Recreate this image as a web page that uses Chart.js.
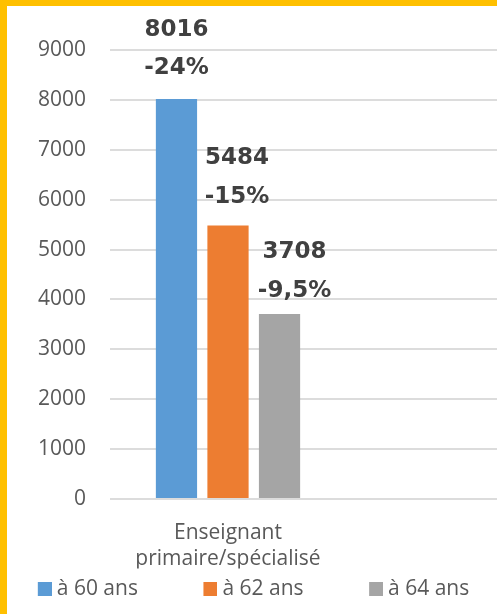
<!DOCTYPE html>
<html>
<head>
<meta charset="utf-8">
<script src="https://cdn.jsdelivr.net/npm/chart.js@4"></script>
<style>
    html, body { margin: 0; padding: 0; background: #ffffff; overflow: hidden; }
    #frame {
        position: absolute; left: 0; top: 0;
        width: 490px; height: 608px;
        border-top: 6px solid #FFC000;
        border-left: 7px solid #FFC000;
        overflow: hidden; background: #ffffff;
    }
    #holder { position: absolute; left: -138px; top: 0; width: 713px; height: 608px; }
</style>
</head>
<body>
<div id="frame"><div id="holder"><canvas id="retraiteChart"></canvas></div></div>
<script>
const categories = [['Enseignant', 'primaire/spécialisé'], ''];
const seriesNames = ['à 60 ans', 'à 62 ans', 'à 64 ans'];
const values60 = [8016, null];
const values62 = [5484, null];
const values64 = [3708, null];
const changes = ['-24%', '-15%', '-9,5%'];
const yMax = 9000;
const yStep = 1000;

const colors = ['#5B9BD5', '#ED7D31', '#A5A5A5'];
const grey = '#595959';

// legend square sits at the right end of a wider swatch, so items get Excel-like spacing
function makeSwatch(color) {
    const c = document.createElement('canvas');
    c.width = 75;
    c.height = 14;
    const g = c.getContext('2d');
    g.fillStyle = color;
    g.fillRect(61, 0, 14, 14);
    return c;
}
const swatches = colors.map(makeSwatch);

// two-line labels above each bar (value, then change)
const barLabels = {
    id: 'barLabels',
    afterDatasetsDraw(chart, args, opts) {
        const ctx = chart.ctx;
        ctx.save();
        ctx.font = 'bold 23px "DejaVu Sans"';
        ctx.fillStyle = '#404040';
        ctx.textAlign = 'center';
        ctx.textBaseline = 'middle';
        chart.data.datasets.forEach((ds, i) => {
            const bar = chart.getDatasetMeta(i).data[0];
            const off = opts.offsets[i];
            ctx.fillText(String(ds.data[0]), bar.x + off[0], bar.y + off[1]);
            ctx.fillText(changes[i], bar.x + off[0], bar.y + off[2]);
        });
        ctx.restore();
    }
};

function renderChart() {
    const ctx = document.getElementById('retraiteChart').getContext('2d');
    new Chart(ctx, {
        type: 'bar',
        data: {
            labels: categories,
            datasets: [values60, values62, values64].map((vals, i) => ({
                label: seriesNames[i],
                data: vals,
                backgroundColor: colors[i],
                categoryPercentage: 0.655,
                barPercentage: 0.8
            }))
        },
        options: {
            responsive: true,
            maintainAspectRatio: false,
            animation: false,
            layout: { padding: { top: 44, left: 0.5, right: 0, bottom: 4.5 } },
            scales: {
                x: {
                    grid: { display: false, drawTicks: false },
                    border: { display: false },
                    ticks: {
                        color: grey, padding: 21, maxRotation: 0, autoSkip: false,
                        font: { family: 'Open Sans', size: 21, lineHeight: 1.25 }
                    },
                    afterFit(scale) { scale.height = 69.5; }
                },
                y: {
                    min: 0,
                    max: yMax,
                    grid: { color: '#dcdcdc', lineWidth: 2, drawTicks: false },
                    border: { display: false },
                    ticks: {
                        stepSize: yStep, color: grey, padding: 24,
                        font: { family: 'Open Sans', size: 21 },
                        callback: v => String(v)
                    },
                    afterFit(scale) { scale.width = 240.5; }
                }
            },
            plugins: {
                legend: {
                    position: 'bottom',
                    labels: {
                        usePointStyle: true, pointStyleWidth: 64, padding: 10, color: grey,
                        font: { family: 'Open Sans', size: 21 },
                        generateLabels(chart) {
                            const items = Chart.defaults.plugins.legend.labels.generateLabels(chart);
                            items.forEach((it, i) => { it.pointStyle = swatches[i]; });
                            return items;
                        }
                    }
                },
                tooltip: { enabled: false },
                barLabels: { offsets: [[0, -69, -31], [9, -67, -28], [15, -62, -23]] }
            }
        },
        plugins: [barLabels]
    });
}

document.addEventListener('DOMContentLoaded', renderChart);
</script>
</body>
</html>
